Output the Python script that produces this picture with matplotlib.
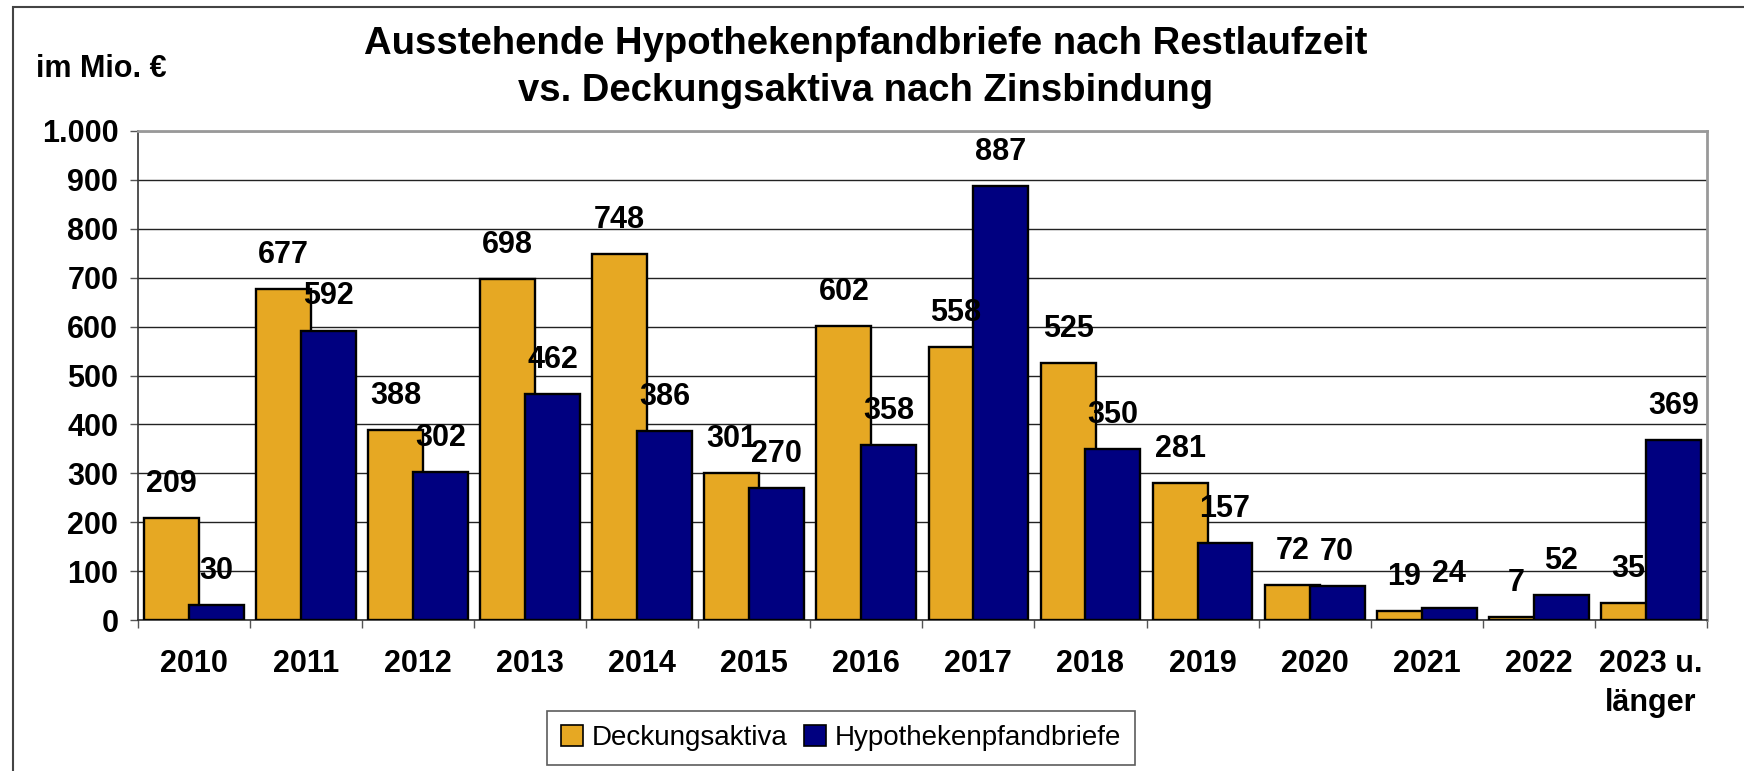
import matplotlib
matplotlib.use("Agg")
import matplotlib.pyplot as plt
from matplotlib.patches import Rectangle, Patch
from matplotlib.ticker import FuncFormatter
import numpy as np

plt.rcParams['font.family'] = ['Liberation Sans', 'DejaVu Sans']

# Daten (im Mio. EUR)
kategorien = ['2010', '2011', '2012', '2013', '2014', '2015', '2016',
              '2017', '2018', '2019', '2020', '2021', '2022', '2023 u.\nlänger']
deckungsaktiva = [209, 677, 388, 698, 748, 301, 602, 558, 525, 281, 72, 19, 7, 35]
pfandbriefe = [30, 592, 302, 462, 386, 270, 358, 887, 350, 157, 70, 24, 52, 369]

orange = '#E6A823'
navy = '#000080'
W, H = 1744, 771

fig = plt.figure(figsize=(W / 100, H / 100), dpi=100)
ax = fig.add_axes([137.7 / W, 1 - 620 / H, (1707 - 137.7) / W, (620 - 131) / H])

x = np.arange(len(kategorien))
bw = 0.49
off = 0.2
b1 = ax.bar(x - off, deckungsaktiva, bw, color=orange, edgecolor='black', linewidth=1.7, zorder=3)
b2 = ax.bar(x + off, pfandbriefe, bw, color=navy, edgecolor='black', linewidth=1.7, zorder=4)

# Datenbeschriftungen
for bars, vals in ((b1, deckungsaktiva), (b2, pfandbriefe)):
    for r, v in zip(bars, vals):
        ax.annotate(str(v), (r.get_x() + r.get_width() / 2, v), xytext=(0, 24.5),
                    textcoords='offset points', ha='center', va='center',
                    fontsize=22, fontweight='bold', zorder=6)

ax.set_xlim(-0.5, len(kategorien) - 0.5)
ax.set_ylim(0, 1000)
ax.set_yticks(np.arange(0, 1001, 100))
ax.yaxis.set_major_formatter(FuncFormatter(lambda v, p: f'{int(v):,}'.replace(',', '.')))
ax.yaxis.grid(True, color='#222222', linewidth=1.0, zorder=0)
ax.set_axisbelow(True)

ax.set_xticks(x)
ax.set_xticklabels(kategorien, fontsize=22, fontweight='bold', linespacing=1.4)
ax.set_xticks(np.arange(-0.5, len(kategorien)), minor=True)
ax.tick_params(axis='x', which='major', length=0, pad=21)
ax.tick_params(axis='x', which='minor', length=6, width=1, color='#555555', direction='out')
ax.tick_params(axis='y', length=6, width=1, color='#555555', labelsize=22, pad=8)
for lab in ax.get_yticklabels():
    lab.set_fontweight('bold')

for s in ('top', 'right'):
    ax.spines[s].set_color('#999999')
    ax.spines[s].set_linewidth(2)
ax.spines['left'].set_color('#333333')
ax.spines['bottom'].set_color('#333333')
ax.spines['left'].set_linewidth(1.2)
ax.spines['bottom'].set_linewidth(1.2)

# Titel
fig.text(866 / W, 1 - 44 / H, 'Ausstehende Hypothekenpfandbriefe nach Restlaufzeit',
         ha='center', va='center', fontsize=27.5, fontweight='bold')
fig.text(866 / W, 1 - 91 / H, 'vs. Deckungsaktiva nach Zinsbindung',
         ha='center', va='center', fontsize=27.5, fontweight='bold')
fig.text(36 / W, 1 - 69 / H, 'im Mio. €', ha='left', va='center', fontsize=22, fontweight='bold')

# Legende
handles = [Patch(facecolor=orange, edgecolor='black', linewidth=1.2, label='Deckungsaktiva'),
           Patch(facecolor=navy, edgecolor='black', linewidth=1.2, label='Hypothekenpfandbriefe')]
leg = fig.legend(handles=handles, loc='center', bbox_to_anchor=(841 / W, 1 - 738 / H),
                 ncol=2, fontsize=20, frameon=True, fancybox=False, edgecolor='#333333',
                 handlelength=0.8, handleheight=0.8, handletextpad=0.3, columnspacing=0.6,
                 borderpad=0.5)
leg.get_frame().set_linewidth(1.2)

# äußerer Rahmen
fig.add_artist(Rectangle((13 / W, -0.1), 2, 1.1 - 7 / H, transform=fig.transFigure,
                         fill=False, edgecolor='#444444', linewidth=1.5))

fig.savefig('out.png', dpi=100)
